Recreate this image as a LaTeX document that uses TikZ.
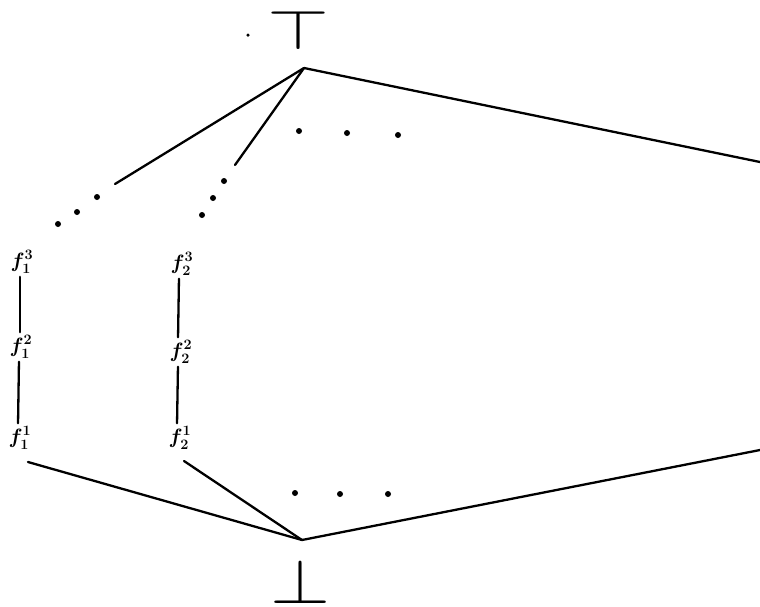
\documentclass[tikz,border=0pt]{standalone}
\usepackage{graphicx}
\begin{document}
\begin{tikzpicture}[x=1pt,y=-1pt,
  ln/.style={line width=2.3pt,line cap=round},
  lab/.style={inner sep=1pt,font=\huge\boldmath},
  dotm/.style={circle,fill=black,inner sep=0pt,minimum size=6pt}]
\useasboundingbox (0,0) rectangle (760,606);
% top and bottom
\node[inner sep=0pt,anchor=north] (top) at (298,10) {\resizebox{62pt}{39pt}{$\top$}};
\node[inner sep=0pt,anchor=south] (bot) at (300,604) {\resizebox{60pt}{44pt}{$\bot$}};
\node[circle,fill=black,inner sep=0pt,minimum size=3.5pt] (sd) at (248,35) {};
\coordinate (t) at (304,68);
\coordinate (b) at (302,540);
% labels
\node[lab] (f13) at (22,262) {$f_1^3$};
\node[lab] (f12) at (21,347) {$f_1^2$};
\node[lab] (f11) at (20,438) {$f_1^1$};
\node[lab] (f23) at (182,264) {$f_2^3$};
\node[lab] (f22) at (181,352) {$f_2^2$};
\node[lab] (f21) at (180,438) {$f_2^1$};
% chains
\draw[ln,shorten <=2pt,shorten >=2pt] (f13.south -| 20,0) -- (f12.north -| 20,0);
\draw[ln,shorten <=2pt,shorten >=2pt] (f12.south -| 19,0) -- (f11.north -| 18,0);
\draw[ln,shorten <=2pt,shorten >=2pt] (f23.south -| 179,0) -- (f22.north -| 178,0);
\draw[ln,shorten <=2pt,shorten >=2pt] (f22.south -| 178,0) -- (f21.north -| 177,0);
% top edges
\coordinate (e1) at (115,184);
\coordinate (e2) at (235,165);
\coordinate (e3) at (760,162);
\draw[ln] (t) -- (e1);
\draw[ln] (t) -- (e2);
\draw[ln] (t) -- (e3);
% bottom edges
\coordinate (g1) at (28,462);
\coordinate (g2) at (184,461);
\coordinate (g3) at (760,450);
\draw[ln] (g1) -- (b);
\draw[ln] (g2) -- (b);
\draw[ln] (g3) -- (b);
% dots
\foreach \x/\y in {97/197,77/212,58/224,224/181,213/198,202/215,
  299/131,347/133,398/135,295/493,340/494,388/494}
  \node[dotm] at (\x,\y) {};
\end{tikzpicture}
\end{document}
